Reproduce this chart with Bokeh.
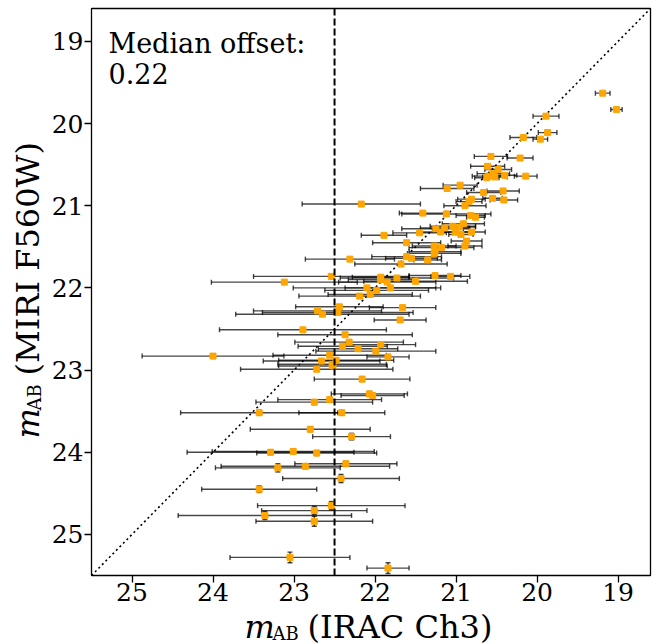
import math
import numpy as np
from bokeh.plotting import figure
from bokeh.layouts import row, column
from bokeh.models import ColumnDataSource, Whisker, TeeHead, Span, Label, Range1d, FixedTicker
from bokeh.embed import file_html
from bokeh.resources import INLINE

# ---------------- data ----------------
irac_mag = [19.19, 19.02, 19.89, 19.87, 20.17, 19.96, 20.57, 20.21, 20.61, 20.48,
            20.54, 20.40, 20.60, 20.52, 20.62, 20.14, 20.95, 21.11, 20.66, 20.42,
            22.17, 20.81, 20.55, 20.41, 20.84, 20.89, 21.41, 21.12, 20.82, 20.76,
            20.91, 21.04, 21.25, 21.14, 20.96, 21.01, 20.94, 20.81, 21.19, 21.45,
            21.89, 20.87, 21.61, 20.89, 21.27, 21.18, 21.26, 21.27, 21.61, 21.55,
            22.31, 21.35, 21.68, 22.54, 21.26, 21.07, 21.93, 21.73, 21.93, 23.12,
            21.85, 21.50, 22.10, 21.81, 21.98, 22.19, 22.06, 22.44, 21.66, 22.71,
            22.65, 22.46, 21.69, 22.89, 22.37, 22.32, 22.40, 21.93, 22.21, 21.99,
            24.00, 22.56, 21.84, 22.66, 22.48, 22.53, 22.52, 22.72, 22.16, 22.07,
            22.03, 22.56, 22.75, 23.43, 22.41, 22.80, 22.29, 23.29, 23.01, 22.72,
            22.36, 23.20, 22.86, 22.42, 23.43, 22.54, 22.75, 23.36, 22.75, 23.05,
            21.84]
irac_err = [0.09, 0.07, 0.16, 0.115, 0.165, 0.09, 0.205, 0.16, 0.21, 0.165,
            0.20, 0.15, 0.20, 0.15, 0.15, 0.14, 0.21, 0.33, 0.21, 0.20,
            0.73, 0.17, 0.12, 0.17, 0.16, 0.26, 0.29, 0.55, 0.18, 0.11,
            0.26, 0.28, 0.42, 0.30, 0.20, 0.19, 0.15, 0.17, 0.28, 0.33,
            0.28, 0.19, 0.42, 0.21, 0.27, 0.40, 0.32, 0.33, 0.43, 0.32,
            0.55, 0.17, 0.57, 0.96, 0.32, 0.24, 0.35, 0.70, 0.40, 0.90,
            0.60, 0.64, 0.91, 0.56, 0.64, 0.75, 0.52, 0.54, 0.41, 0.79,
            1.07, 0.93, 0.32, 1.03, 0.83, 0.67, 0.55, 0.43, 0.49, 0.74,
            0.875, 0.70, 0.26, 0.72, 0.71, 0.67, 0.67, 0.94, 0.59, 0.47,
            0.39, 0.64, 0.72, 0.97, 0.53, 0.74, 0.48, 1.03, 1.00, 0.74,
            0.63, 0.77, 1.04, 0.72, 0.71, 0.91, 0.65, 1.07, 0.72, 0.74,
            0.26]
miri_mag = [19.63, 19.83, 19.91, 20.11, 20.17, 20.19, 20.40, 20.42, 20.52, 20.56,
            20.61, 20.63, 20.64, 20.65, 20.66, 20.64, 20.75, 20.79, 20.84, 20.82,
            20.98, 20.92, 20.91, 20.93, 20.95, 21.00, 21.09, 21.10, 21.12, 21.14,
            21.22, 21.25, 21.28, 21.27, 21.26, 21.32, 21.35, 21.32, 21.32, 21.33,
            21.36, 21.43, 21.45, 21.49, 21.49, 21.51, 21.56, 21.58, 21.62, 21.64,
            21.65, 21.66, 21.71, 21.86, 21.85, 21.86, 21.87, 21.88, 21.90, 21.93,
            21.93, 21.92, 22.00, 22.00, 22.03, 22.10, 22.08, 22.23, 22.24, 22.28,
            22.32, 22.30, 22.39, 22.51, 22.57, 22.66, 22.71, 22.69, 22.74, 22.77,
            22.83, 22.82, 22.84, 22.89, 22.88, 22.93, 22.95, 22.99, 23.11, 23.29,
            23.31, 23.36, 23.39, 23.52, 23.52, 23.72, 23.81, 24.00, 23.99, 24.01,
            24.14, 24.19, 24.17, 24.32, 24.45, 24.65, 24.71, 24.77, 24.84, 25.28,
            25.41]
miri_err = [0.01, 0.01, 0.01, 0.01, 0.01, 0.01, 0.01, 0.01, 0.01, 0.01,
            0.01, 0.01, 0.01, 0.01, 0.01, 0.01, 0.01, 0.01, 0.01, 0.01,
            0.02, 0.01, 0.01, 0.01, 0.01, 0.01, 0.01, 0.01, 0.01, 0.01,
            0.01, 0.01, 0.01, 0.01, 0.01, 0.01, 0.01, 0.01, 0.01, 0.01,
            0.02, 0.01, 0.02, 0.01, 0.01, 0.01, 0.02, 0.02, 0.02, 0.02,
            0.02, 0.02, 0.02, 0.02, 0.02, 0.02, 0.02, 0.02, 0.02, 0.02,
            0.02, 0.02, 0.02, 0.02, 0.02, 0.02, 0.02, 0.02, 0.02, 0.02,
            0.02, 0.02, 0.02, 0.02, 0.02, 0.02, 0.02, 0.02, 0.02, 0.02,
            0.02, 0.02, 0.02, 0.02, 0.02, 0.02, 0.02, 0.02, 0.03, 0.03,
            0.03, 0.03, 0.03, 0.03, 0.03, 0.03, 0.04, 0.03, 0.03, 0.03,
            0.03, 0.05, 0.03, 0.05, 0.04, 0.05, 0.05, 0.05, 0.06, 0.065,
            0.065]
median_offset = 0.22
irac_cut = 22.5
mag_limits = [25.5, 18.6]
x_ticks = [25, 24, 23, 22, 21, 20, 19]
y_ticks = [19, 20, 21, 22, 23, 24, 25]

SERIF = "DejaVu Serif"
YLAB_W = 44
MAIN_W = 613
BORDER_L = 47
BORDER_R = 7
MAIN_BOTTOM = 46
OVERLAP = 10
TOTAL_H = 644
SVG_SHIFT = 0.333   # svg text sits ~1/3 em below the requested alphabetic baseline

# ---------------- main figure ----------------
p = figure(frame_width=559, frame_height=567,
           min_border_left=BORDER_L, min_border_right=BORDER_R, min_border_top=8,
           min_border_bottom=MAIN_BOTTOM,
           x_range=Range1d(mag_limits[0], mag_limits[1]),
           y_range=Range1d(mag_limits[0], mag_limits[1]),
           output_backend="svg", toolbar_location=None, tools="")
p.background_fill_color = "white"
p.border_fill_color = "white"
p.outline_line_color = "black"
p.outline_line_width = 1.3
p.grid.visible = False

for ax, ticks in ((p.xaxis[0], x_ticks), (p.yaxis[0], y_ticks)):
    ax.ticker = FixedTicker(ticks=ticks)
    ax.axis_line_color = None
    ax.major_tick_out = 7
    ax.major_tick_in = 0
    ax.major_tick_line_width = 1.3
    ax.major_tick_line_color = "black"
    ax.minor_tick_line_color = None
    ax.major_label_text_font = SERIF
    ax.major_label_text_font_size = "25px"
    ax.major_label_text_color = "black"
    ax.axis_label = None
p.xaxis.major_label_standoff = 0
p.yaxis.major_label_standoff = 1

x = np.array(irac_mag)
y = np.array(miri_mag)
xe = np.array(irac_err)
ye = np.array(miri_err)
src = ColumnDataSource(dict(x=x, y=y, xlo=x - xe, xhi=x + xe, ylo=y - ye, yhi=y + ye))

# 1:1 line
p.line(mag_limits, mag_limits, line_color="black", line_width=1.6, line_dash="2 3")

err_kw = dict(line_color="black", line_alpha=0.72, line_width=1.4)
p.add_layout(Whisker(source=src, base="y", lower="xlo", upper="xhi", dimension="width",
                     lower_head=TeeHead(size=5, **err_kw), upper_head=TeeHead(size=5, **err_kw),
                     **err_kw))
p.add_layout(Whisker(source=src, base="x", lower="ylo", upper="yhi", dimension="height",
                     lower_head=TeeHead(size=5, **err_kw), upper_head=TeeHead(size=5, **err_kw),
                     **err_kw))

p.scatter("x", "y", source=src, marker="square", size=6,
          fill_color="orange", line_color="orange")

p.add_layout(Span(location=irac_cut, dimension="height", line_color="black",
                  line_width=2, line_dash="7 3"))

# annotation text (baselines at page y 52 and 82)
ANN = 27
p.add_layout(Label(x=mag_limits[0], y=mag_limits[1], x_offset=17,
                   y_offset=-44 + SVG_SHIFT * ANN,
                   text="Median offset:", text_font=SERIF, text_font_size=f"{ANN}px",
                   text_baseline="alphabetic", text_align="left", text_color="black"))
p.add_layout(Label(x=mag_limits[0], y=mag_limits[1], x_offset=17,
                   y_offset=-74 + SVG_SHIFT * ANN,
                   text=f"{median_offset:.2f}", text_font=SERIF, text_font_size=f"{ANN}px",
                   text_baseline="alphabetic", text_align="left", text_color="black"))


def text_panel(w, h, xr, yr, bl=0, br=0):
    f = figure(width=w, height=h, x_range=Range1d(*xr), y_range=Range1d(*yr),
               x_axis_type=None, y_axis_type=None, output_backend="svg",
               toolbar_location=None, tools="", min_border=0,
               min_border_left=bl, min_border_right=br)
    f.outline_line_color = None
    f.background_fill_alpha = 0
    f.border_fill_alpha = 0
    f.grid.visible = False
    return f


def piece(fig, px, py, txt, size, italic=False, rotated=False):
    # px, py: page position of the alphabetic baseline start
    shift = SVG_SHIFT * size
    if rotated:
        px, ang = px - shift, math.pi / 2
    else:
        py, ang = py - shift, 0.0
    fig.add_layout(Label(x=px, y=py, text=txt, angle=ang, text_font=SERIF,
                         text_font_size=f"{size}px",
                         text_font_style="italic" if italic else "normal",
                         text_baseline="alphabetic", text_align="left", text_color="black"))

LAB = 32
SUB = 18

# y-axis label panel (data coordinates == page pixels)
yl = text_panel(YLAB_W, TOTAL_H, (0, YLAB_W), (TOTAL_H, 0))
piece(yl, 38, 438, "m", LAB, italic=True, rotated=True)
piece(yl, 40, 410, "AB", SUB, rotated=True)
piece(yl, 38, 375, "(MIRI F560W)", LAB, rotated=True)

# x-axis label panel; its frame lines up with the main frame (page x 91..650)
top = 8 + 567 + MAIN_BOTTOM - OVERLAP
fx0 = YLAB_W + BORDER_L
fx1 = YLAB_W + MAIN_W - BORDER_R
xl = text_panel(MAIN_W, TOTAL_H - top, (fx0, fx1), (TOTAL_H, top), bl=BORDER_L, br=BORDER_R)
xl.margin = (-OVERLAP, 0, 0, 0)
piece(xl, 244, 637, "m", LAB, italic=True)
piece(xl, 272, 639, "AB", SUB)
piece(xl, 307, 637, "(IRAC Ch3)", LAB)

layout = row(yl, column(p, xl, spacing=0), spacing=0)
open("out.html", "w").write(file_html(layout, INLINE))
